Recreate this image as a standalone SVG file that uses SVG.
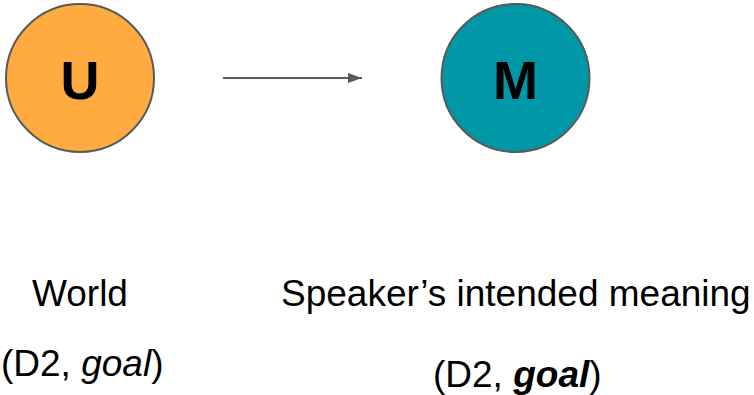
<svg xmlns="http://www.w3.org/2000/svg" width="754" height="395" viewBox="0 0 754 395">
<style>
.node{stroke:#595959;stroke-width:2}
.lbl{font-family:"Liberation Sans",Arial,sans-serif;font-weight:bold;font-size:54px;fill:#000;text-anchor:middle}
.txt{font-family:"Liberation Sans",Arial,sans-serif;font-size:37px;fill:#000}
.edge{stroke:#595959;stroke-width:2;fill:none}
</style>
<defs>
<marker id="ah" markerWidth="7" markerHeight="5" refX="7" refY="2.5" orient="auto" markerUnits="strokeWidth">
<path d="M0,0 L7,2.5 L0,5 Z" fill="#595959"/>
</marker>
</defs>
<rect width="754" height="395" fill="#fff"/>
<g id="connectors">
<line class="edge" x1="223" y1="78" x2="362" y2="78" marker-end="url(#ah)"/>
</g>
<g id="node-U">
<circle class="node" cx="80" cy="78" r="74" fill="#FFAB40"/>
<text class="lbl" x="80" y="99">U</text>
</g>
<g id="node-M">
<circle class="node" cx="515.5" cy="78" r="74" fill="#0097A7"/>
<text class="lbl" x="515.5" y="99">M</text>
</g>
<g id="label-world">
<text class="txt" x="32" y="306">World</text>
<text class="txt" x="1" y="376">(D2, <tspan font-style="italic">goal</tspan>)</text>
</g>
<g id="label-meaning">
<text class="txt" x="281" y="306">Speaker’s intended meaning</text>
<text class="txt" x="433" y="387">(D2, <tspan font-style="italic" font-weight="bold">goal</tspan>)</text>
</g>
</svg>
